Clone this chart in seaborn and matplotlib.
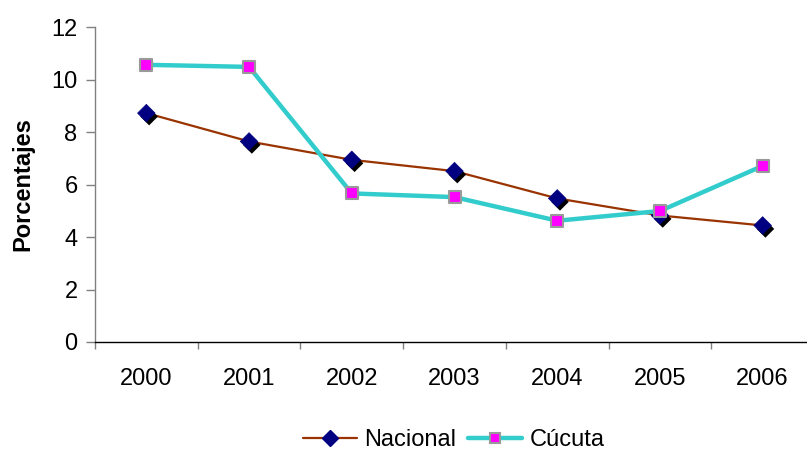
import seaborn as sns
import matplotlib.pyplot as plt
import matplotlib.patheffects as pe
from matplotlib.lines import Line2D
import pandas as pd

# data
years = ["2000", "2001", "2002", "2003", "2004", "2005", "2006"]
nacional = [8.72, 7.64, 6.94, 6.51, 5.47, 4.82, 4.44]
cucuta = [10.56, 10.48, 5.66, 5.52, 4.62, 4.99, 6.71]

df = pd.DataFrame({"pos": range(len(years)), "year": years,
                   "Nacional": nacional, "Cúcuta": cucuta})

sns.set_style("white")
plt.rcParams["font.family"] = ["Liberation Sans", "DejaVu Sans"]
plt.rcParams["text.color"] = "black"
plt.rcParams["axes.labelcolor"] = "black"
plt.rcParams["xtick.labelcolor"] = "black"
plt.rcParams["ytick.labelcolor"] = "black"

fig = plt.figure(figsize=(8.07, 4.54), dpi=100)
ax = fig.add_axes([0.1177, 0.2467, 0.891, 0.6938])

brown = "#993300"
cyan = "#33CCCC"

sns.lineplot(data=df, x="pos", y="Nacional", color=brown, linewidth=1.6, ax=ax)
sns.scatterplot(data=df, x="pos", y="Nacional", marker="D", s=80, color="#000080",
                edgecolor="#000080", linewidth=0.5, ax=ax, zorder=3,
                path_effects=[pe.SimplePatchShadow(offset=(2, -2.5), shadow_rgbFace="black", alpha=1),
                              pe.Normal()])
sns.lineplot(data=df, x="pos", y="Cúcuta", color=cyan, linewidth=3.2, ax=ax, zorder=4)
sns.scatterplot(data=df, x="pos", y="Cúcuta", marker="s", s=64, color="#FF00FF",
                edgecolor="#999999", linewidth=1.5, ax=ax, zorder=5)

ax.set_xlim(-0.5, len(years) - 0.5)
ax.set_ylim(0, 12)
ax.set_yticks(range(0, 13, 2))
ax.set_xticks([i - 0.5 for i in range(len(years) + 1)])
ax.set_xticklabels([])
ax.set_xticks(range(len(years)), minor=True)
ax.set_xticklabels(years, minor=True)

ax.tick_params(axis="y", which="major", direction="out", length=6.5, width=1,
               color="#808080", pad=6, labelsize=17, left=True)
ax.tick_params(axis="x", which="major", direction="out", length=5, width=1,
               color="#808080", bottom=True)
ax.tick_params(axis="x", which="minor", length=0, pad=19, labelsize=17)

for s in ["top", "right"]:
    ax.spines[s].set_visible(False)
ax.spines["left"].set_color("#808080")
ax.spines["bottom"].set_color("black")
ax.spines["left"].set_linewidth(1)
ax.spines["bottom"].set_linewidth(1)

ax.set_xlabel("")
ax.set_ylabel("Porcentajes", fontsize=17, fontweight="bold", labelpad=12)

handles = [
    Line2D([], [], color=brown, linewidth=1.6, marker="D", markersize=8,
           markerfacecolor="#000080", markeredgecolor="#000080"),
    Line2D([], [], color=cyan, linewidth=3.2, marker="s", markersize=7,
           markerfacecolor="#FF00FF", markeredgecolor="#999999", markeredgewidth=1.5),
]
fig.legend(handles, ["Nacional", "Cúcuta"], loc="center", bbox_to_anchor=(0.562, 0.03),
           ncol=2, frameon=False, fontsize=17, handlelength=2.3, handletextpad=0.3,
           columnspacing=0.5, borderpad=0)

fig.savefig("out.png", dpi=100)
